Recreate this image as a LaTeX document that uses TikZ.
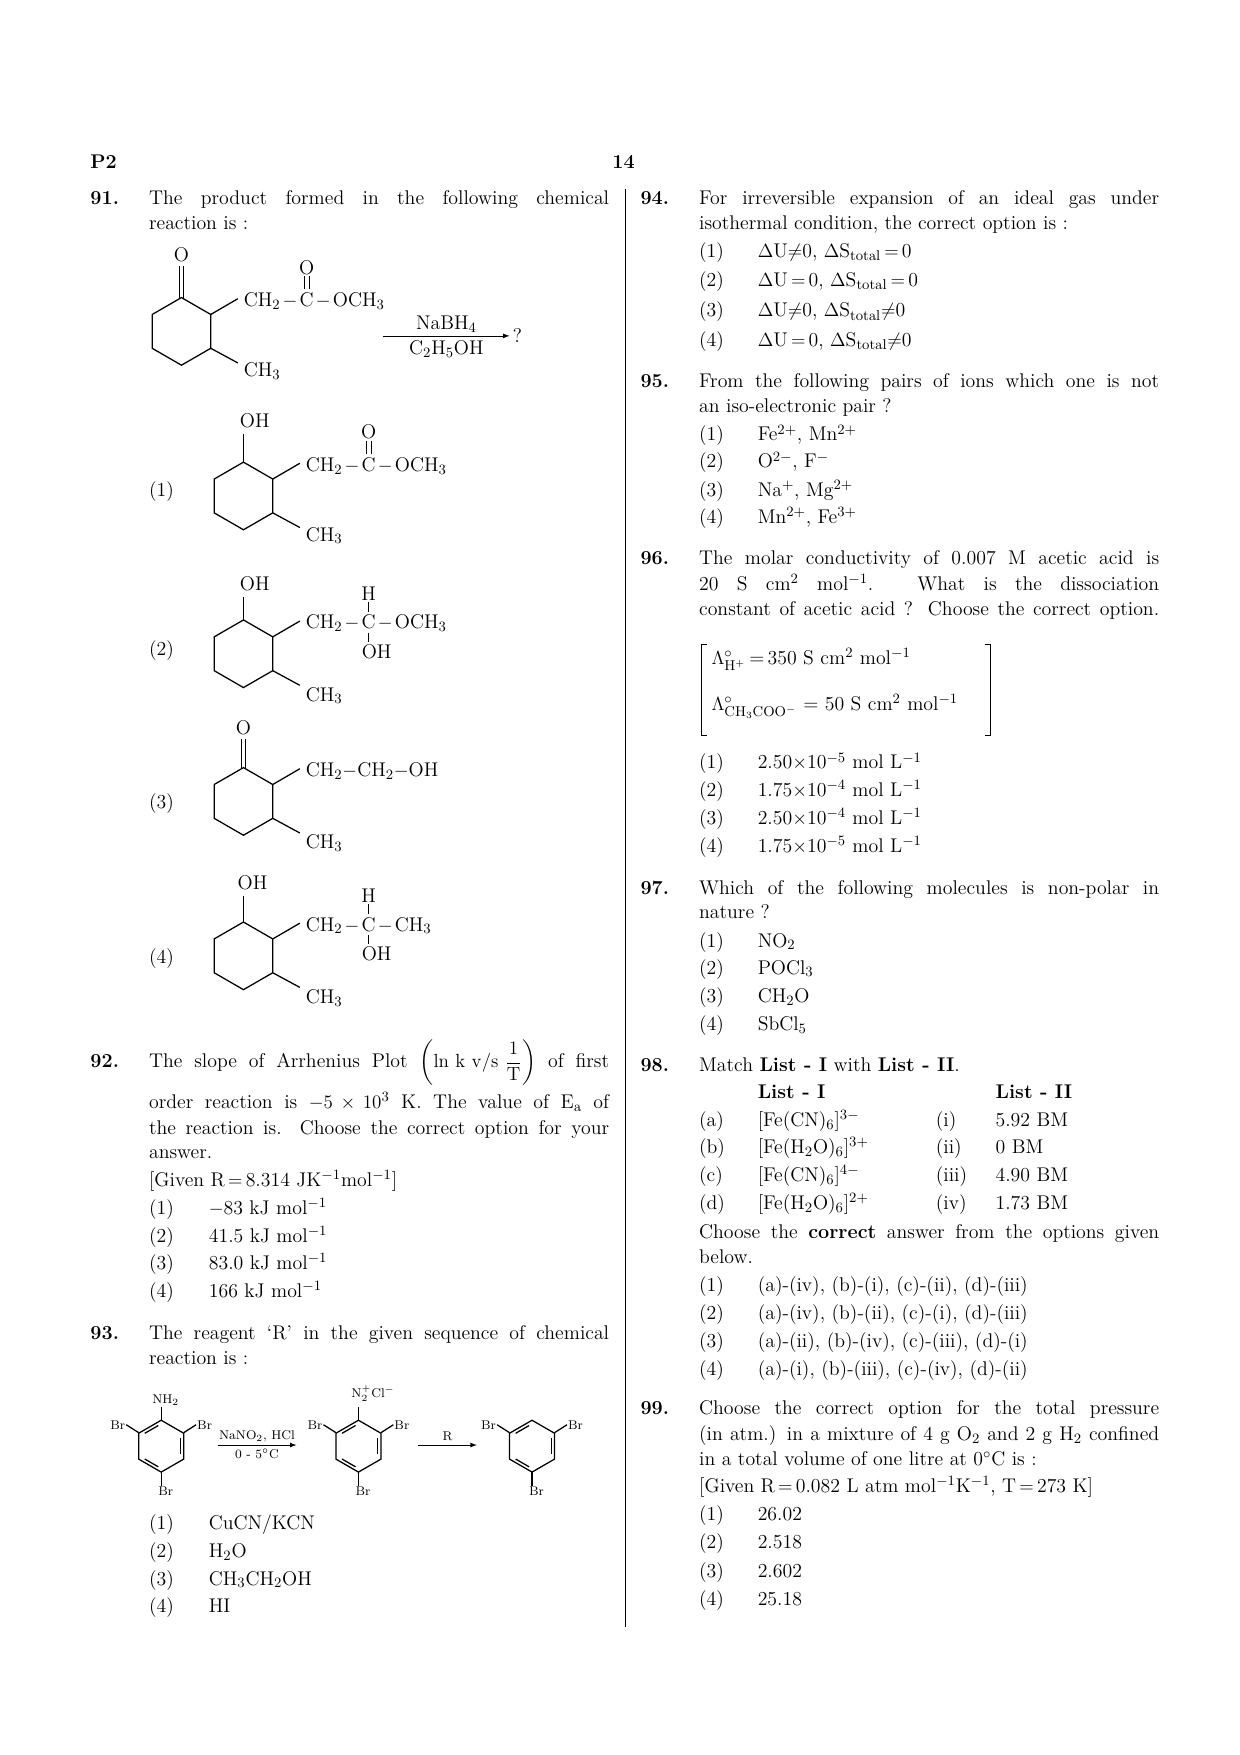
\documentclass[tikz,border=0pt]{standalone}
\usepackage{amsmath}
\usetikzlibrary{positioning}
\tikzset{
  txt/.style={anchor=base west,inner sep=0pt,yshift=2pt,font=\fontsize{12.5}{15}\selectfont},
  qnum/.style={txt,font=\fontsize{12.5}{15}\selectfont\bfseries},
  chem/.style={inner sep=0pt,font=\fontsize{12.5}{15}\selectfont},
  tiny/.style={inner sep=0.5pt,font=\fontsize{8}{9}\selectfont},
  bond/.style={line width=0.8pt},
}
\newcommand\jl[1]{\makebox[10.2cm][s]{#1}}
% ring with two side bonds to the right
\newcommand\subring[2]{%
  \draw[bond] (#1,#2) +(30:30) -- +(90:30) -- +(150:30) -- +(210:30) -- +(270:30) -- +(330:30) -- cycle;
  \draw[bond] (#1+26,#2-15) -- (#1+50,#2-29);
  \draw[bond] (#1+26,#2+15) -- (#1+50,#2+28);}
% aromatic ring
\newcommand\benz[2]{%
  \draw[bond] (#1,#2) +(30:23) -- +(90:23) -- +(150:23) -- +(210:23) -- +(270:23) -- +(330:23) -- cycle;
  \foreach \a in {90,210,330}
    \draw[bond] (#1,#2) +(\a+8:18.5) -- +(\a+52:18.5);}
\begin{document}
\begin{tikzpicture}[x=0.025cm,y=-0.025cm]
\useasboundingbox (0,0) rectangle (1100,1557);
\node[qnum] (hd) at (80,152) {P2};
\node[qnum] (pg) at (543,152) {14};
\draw[line width=0.9pt] (555,168) -- (555,1443);

% ---- 91
\node[qnum] (q91) at (80,184) {91.};
\node[txt] at (132,184) {\jl{The product formed in the following chemical}};
\node[txt] at (132,206) {reaction is :};
\subring{161}{294}
\draw[bond] (159,264) -- (159,236); \draw[bond] (163,264) -- (163,236);
\node[chem] (o0) at (161,226) {O};
\node[chem,anchor=base west] (ch0) at (216,272) {CH$_2$};
\node[chem,base right=1pt of ch0] (d01) {$-$};
\node[chem,base right=1pt of d01] (c0) {C};
\node[chem,base right=1pt of c0] (d02) {$-$};
\node[chem,base right=1pt of d02] (och0) {OCH$_3$};
\node[chem,above=11pt of c0] (co0) {O};
\draw ([xshift=-1.5pt,yshift=2pt]c0.north) -- ([xshift=-1.5pt,yshift=-1pt]co0.south); \draw ([xshift=1.5pt,yshift=2pt]c0.north) -- ([xshift=1.5pt,yshift=-1pt]co0.south);
\node[chem,anchor=base west] (me0) at (216,334) {CH$_3$};
\coordinate (r1) at (340,298); \coordinate (r2) at (452,298);
\draw[-latex] (r1) -- (r2) node[midway,above=2pt,chem] {NaBH$_4$} node[midway,below=3pt,chem] {C$_2$H$_5$OH};
\node[chem,right=2pt of r2] (qm) {?};

% options 91
\node[txt] at (132,443) {(1)};
\subring{216}{440}
\draw[bond] (216,410) -- (216,385);
\node[chem] (oh1) at (226,373) {OH};
\node[chem,anchor=base west] (ch1) at (271,418) {CH$_2$};
\node[chem,base right=1pt of ch1] (d11) {$-$};
\node[chem,base right=1pt of d11] (c1) {C};
\node[chem,base right=1pt of c1] (d12) {$-$};
\node[chem,base right=1pt of d12] (och1) {OCH$_3$};
\node[chem,above=11pt of c1] (co1) {O};
\draw ([xshift=-1.5pt,yshift=2pt]c1.north) -- ([xshift=-1.5pt,yshift=-1pt]co1.south); \draw ([xshift=1.5pt,yshift=2pt]c1.north) -- ([xshift=1.5pt,yshift=-1pt]co1.south);
\node[chem,anchor=base west] (me1) at (271,480) {CH$_3$};

\node[txt] at (132,584) {(2)};
\subring{216}{580}
\draw[bond] (216,550) -- (216,530);
\node[chem] (oh2) at (226,518) {OH};
\node[chem,anchor=base west] (ch2) at (271,558) {CH$_2$};
\node[chem,base right=1pt of ch2] (d21) {$-$};
\node[chem,base right=1pt of d21] (c2) {C};
\node[chem,base right=1pt of c2] (d22) {$-$};
\node[chem,base right=1pt of d22] (och2) {OCH$_3$};
\node[chem,above=9pt of c2] (h2) {H};
\node[chem,below=9pt of c2,xshift=5pt] (cho2) {OH};
\draw ([yshift=2pt]c2.north) -- ([yshift=-1pt]h2.south); \draw ([yshift=-2pt]c2.south) -- ([xshift=-5pt,yshift=1pt]cho2.north);
\node[chem,anchor=base west] (me2) at (271,622) {CH$_3$};

\node[txt] at (132,720) {(3)};
\subring{216}{711}
\draw[bond] (214,681) -- (214,656); \draw[bond] (218,681) -- (218,656);
\node[chem] (o3) at (216,646) {O};
\node[chem,anchor=base west] (ch3) at (271,689) {CH$_2-$CH$_2-$OH};
\node[chem,anchor=base west] (me3) at (271,753) {CH$_3$};

\node[txt] at (132,858) {(4)};
\subring{216}{848}
\draw[bond] (216,818) -- (216,795);
\node[chem] (oh4) at (224,783) {OH};
\node[chem,anchor=base west] (ch4) at (271,826) {CH$_2$};
\node[chem,base right=1pt of ch4] (d41) {$-$};
\node[chem,base right=1pt of d41] (c4) {C};
\node[chem,base right=1pt of c4] (d42) {$-$};
\node[chem,base right=1pt of d42] (och4) {CH$_3$};
\node[chem,above=9pt of c4] (h4) {H};
\node[chem,below=9pt of c4,xshift=5pt] (cho4) {OH};
\draw ([yshift=2pt]c4.north) -- ([yshift=-1pt]h4.south); \draw ([yshift=-2pt]c4.south) -- ([xshift=-5pt,yshift=1pt]cho4.north);
\node[chem,anchor=base west] (me4) at (271,890) {CH$_3$};

% ---- 92
\node[qnum] (q92) at (80,950) {92.};
\node[txt] at (132,950) {\jl{The slope of Arrhenius Plot $\left(\mathrm{ln\ k\ v/s\ }\dfrac{1}{\mathrm{T}}\right)$ of first}};
\node[txt] at (132,986) {\jl{order reaction is $-5\times10^3$ K. The value of E$_{\mathrm{a}}$ of}};
\node[txt] at (132,1009) {\jl{the reaction is. Choose the correct option for your}};
\node[txt] at (132,1031) {answer.};
\node[txt] at (132,1055) {[Given R$\,=\,$8.314 JK$^{-1}$mol$^{-1}$]};
\node[txt] at (132,1080) {(1)}; \node[txt] at (185,1080) {$-$83 kJ mol$^{-1}$};
\node[txt] at (132,1105) {(2)}; \node[txt] at (185,1105) {41.5 kJ mol$^{-1}$};
\node[txt] at (132,1129) {(3)}; \node[txt] at (185,1129) {83.0 kJ mol$^{-1}$};
\node[txt] at (132,1154) {(4)}; \node[txt] at (185,1154) {166 kJ mol$^{-1}$};

% ---- 93
\node[qnum] (q93) at (80,1191) {93.};
\node[txt] at (132,1191) {\jl{The reagent `R' in the given sequence of chemical}};
\node[txt] at (132,1213) {reaction is :};
\benz{143}{1283}
\draw[bond] (143,1260) -- (143,1248); \node[tiny,anchor=south] (nh) at (147,1248) {NH$_2$};
\draw[bond] (123,1271) -- (112,1264); \node[tiny,anchor=east] (b11) at (112,1264) {Br};
\draw[bond] (163,1271) -- (174,1264); \node[tiny,anchor=west] (b12) at (174,1264) {Br};
\draw[bond] (143,1306) -- (143,1318); \node[tiny,anchor=north] (b13) at (147,1318) {Br};
\coordinate (s1) at (193,1282); \coordinate (s2) at (263,1282);
\draw[-latex] (s1) -- (s2) node[midway,above=1pt,tiny] {NaNO$_2$, HCl} node[midway,below=2pt,tiny] {0 - 5$^\circ$C};
\benz{318}{1283}
\draw[bond] (318,1260) -- (318,1248); \node[tiny,anchor=south] (dz) at (331,1244) {N$_2^+$Cl$^-$};
\draw[bond] (298,1271) -- (287,1264); \node[tiny,anchor=east] (b21) at (287,1264) {Br};
\draw[bond] (338,1271) -- (349,1264); \node[tiny,anchor=west] (b22) at (349,1264) {Br};
\draw[bond] (318,1306) -- (318,1318); \node[tiny,anchor=north] (b23) at (322,1318) {Br};
\coordinate (t1) at (371,1282); \coordinate (t2) at (423,1282);
\draw[-latex] (t1) -- (t2) node[midway,above=2pt,tiny] {R};
\benz{472}{1283}
\draw[bond] (452,1271) -- (441,1264); \node[tiny,anchor=east] (b31) at (441,1264) {Br};
\draw[bond] (492,1271) -- (503,1264); \node[tiny,anchor=west] (b32) at (503,1264) {Br};
\draw[bond] (472,1306) -- (472,1318); \node[tiny,anchor=north] (b33) at (476,1318) {Br};
\node[txt] at (132,1360) {(1)}; \node[txt] at (185,1360) {CuCN/KCN};
\node[txt] at (132,1385) {(2)}; \node[txt] at (185,1385) {H$_2$O};
\node[txt] at (132,1409) {(3)}; \node[txt] at (185,1409) {CH$_3$CH$_2$OH};
\node[txt] at (132,1433) {(4)}; \node[txt] at (185,1433) {HI};

% ---- 94
\node[qnum] (q94) at (568,184) {94.};
\node[txt] at (620,184) {\jl{For irreversible expansion of an ideal gas under}};
\node[txt] at (620,206) {isothermal condition, the correct option is :};
\node[txt] at (620,231) {(1)}; \node[txt] at (672,231) {$\Delta$U$\neq$0, $\Delta$S$_{\mathrm{total}}$$\,=\,$0};
\node[txt] at (620,257) {(2)}; \node[txt] at (672,257) {$\Delta$U$\,=\,$0, $\Delta$S$_{\mathrm{total}}$$\,=\,$0};
\node[txt] at (620,284) {(3)}; \node[txt] at (672,284) {$\Delta$U$\neq$0, $\Delta$S$_{\mathrm{total}}$$\neq$0};
\node[txt] at (620,310) {(4)}; \node[txt] at (672,310) {$\Delta$U$\,=\,$0, $\Delta$S$_{\mathrm{total}}$$\neq$0};

% ---- 95
\node[qnum] (q95) at (568,347) {95.};
\node[txt] at (620,347) {\jl{From the following pairs of ions which one is not}};
\node[txt] at (620,369) {an iso-electronic pair ?};
\node[txt] at (620,394) {(1)}; \node[txt] at (672,394) {Fe$^{2+}$, Mn$^{2+}$};
\node[txt] at (620,418) {(2)}; \node[txt] at (672,418) {O$^{2-}$, F$^-$};
\node[txt] at (620,443) {(3)}; \node[txt] at (672,443) {Na$^+$, Mg$^{2+}$};
\node[txt] at (620,467) {(4)}; \node[txt] at (672,467) {Mn$^{2+}$, Fe$^{3+}$};

% ---- 96
\node[qnum] (q96) at (568,504) {96.};
\node[txt] at (620,504) {\jl{The molar conductivity of 0.007 M acetic acid is}};
\node[txt] at (620,527) {\jl{20 S cm$^2$ mol$^{-1}$. What is the dissociation}};
\node[txt] at (620,549) {\jl{constant of acetic acid ? Choose the correct option.}};
\draw (627,572) -- (622,572) -- (622,652) -- (627,652);
\draw (874,572) -- (879,572) -- (879,652) -- (874,652);
\node[txt] (lh) at (631,592) {$\Lambda^\circ_{\mathrm{H^+}}$\,=\,350 S cm$^2$ mol$^{-1}$};
\node[txt] (la) at (631,633) {$\Lambda^\circ_{\mathrm{CH_3COO^-}}$ = 50 S cm$^2$ mol$^{-1}$};
\node[txt] at (620,685) {(1)}; \node[txt] at (672,685) {2.50$\times$10$^{-5}$ mol L$^{-1}$};
\node[txt] at (620,709) {(2)}; \node[txt] at (672,709) {1.75$\times$10$^{-4}$ mol L$^{-1}$};
\node[txt] at (620,734) {(3)}; \node[txt] at (672,734) {2.50$\times$10$^{-4}$ mol L$^{-1}$};
\node[txt] at (620,759) {(4)}; \node[txt] at (672,759) {1.75$\times$10$^{-5}$ mol L$^{-1}$};

% ---- 97
\node[qnum] (q97) at (568,796) {97.};
\node[txt] at (620,796) {\jl{Which of the following molecules is non-polar in}};
\node[txt] at (620,818) {nature ?};
\node[txt] at (620,843) {(1)}; \node[txt] at (672,843) {NO$_2$};
\node[txt] at (620,867) {(2)}; \node[txt] at (672,867) {POCl$_3$};
\node[txt] at (620,892) {(3)}; \node[txt] at (672,892) {CH$_2$O};
\node[txt] at (620,917) {(4)}; \node[txt] at (672,917) {SbCl$_5$};

% ---- 98
\node[qnum] (q98) at (568,953) {98.};
\node[txt] at (620,953) {Match \textbf{List - I} with \textbf{List - II}.};
\node[txt] at (672,977) {\textbf{List - I}}; \node[txt] at (883,977) {\textbf{List - II}};
\node[txt] at (620,1002) {(a)}; \node[txt] at (672,1002) {[Fe(CN)$_6$]$^{3-}$}; \node[txt] at (830,1002) {(i)}; \node[txt] at (883,1002) {5.92 BM};
\node[txt] at (620,1026) {(b)}; \node[txt] at (672,1026) {[Fe(H$_2$O)$_6$]$^{3+}$}; \node[txt] at (830,1026) {(ii)}; \node[txt] at (883,1026) {0 BM};
\node[txt] at (620,1051) {(c)}; \node[txt] at (672,1051) {[Fe(CN)$_6$]$^{4-}$}; \node[txt] at (830,1051) {(iii)}; \node[txt] at (883,1051) {4.90 BM};
\node[txt] at (620,1076) {(d)}; \node[txt] at (672,1076) {[Fe(H$_2$O)$_6$]$^{2+}$}; \node[txt] at (830,1076) {(iv)}; \node[txt] at (883,1076) {1.73 BM};
\node[txt] at (620,1102) {\jl{Choose the \textbf{correct} answer from the options given}};
\node[txt] at (620,1124) {below.};
\node[txt] at (620,1149) {(1)}; \node[txt] at (672,1149) {(a)-(iv), (b)-(i), (c)-(ii), (d)-(iii)};
\node[txt] at (620,1173) {(2)}; \node[txt] at (672,1173) {(a)-(iv), (b)-(ii), (c)-(i), (d)-(iii)};
\node[txt] at (620,1198) {(3)}; \node[txt] at (672,1198) {(a)-(ii), (b)-(iv), (c)-(iii), (d)-(i)};
\node[txt] at (620,1223) {(4)}; \node[txt] at (672,1223) {(a)-(i), (b)-(iii), (c)-(iv), (d)-(ii)};

% ---- 99
\node[qnum] (q99) at (568,1258) {99.};
\node[txt] at (620,1258) {\jl{Choose the correct option for the total pressure}};
\node[txt] at (620,1281) {\jl{(in atm.) in a mixture of 4 g O$_2$ and 2 g H$_2$ confined}};
\node[txt] at (620,1303) {in a total volume of one litre at 0$^\circ$C is :};
\node[txt] at (620,1327) {[Given R$\,=\,$0.082 L atm mol$^{-1}$K$^{-1}$, T$\,=\,$273 K]};
\node[txt] at (620,1352) {(1)}; \node[txt] at (672,1352) {26.02};
\node[txt] at (620,1377) {(2)}; \node[txt] at (672,1377) {2.518};
\node[txt] at (620,1402) {(3)}; \node[txt] at (672,1402) {2.602};
\node[txt] at (620,1427) {(4)}; \node[txt] at (672,1427) {25.18};
\end{tikzpicture}
\end{document}
